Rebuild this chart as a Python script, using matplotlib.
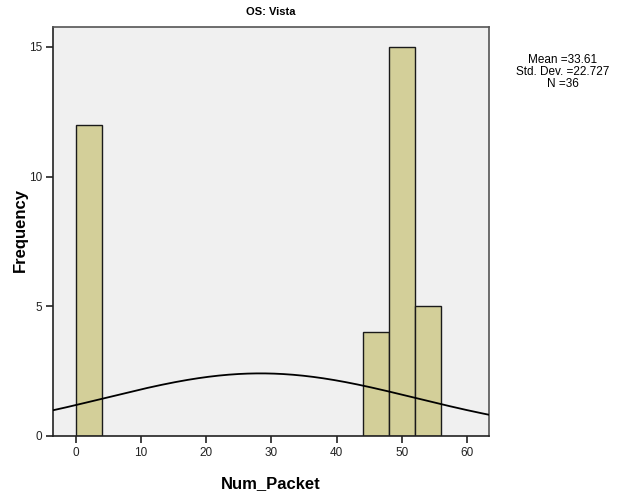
import numpy as np
import matplotlib.pyplot as plt

# ---- data ----
bin_left = [0, 44, 48, 52]
bin_width = 4
counts = [12, 4, 15, 5]
x_ticks = [0, 10, 20, 30, 40, 50, 60]
y_ticks = [0, 5, 10, 15]

# fitted normal curve as drawn
curve_mean = 28.3
curve_sd = 23.8
n_total = 36

stats_text = "Mean =33.61\nStd. Dev. =22.727\nN =36"

plt.rcParams['font.family'] = ['Liberation Sans', 'DejaVu Sans']

fig = plt.figure(figsize=(6.2, 4.93), dpi=100)
ax = fig.add_axes([53/620, 1 - 436/493, 436/620, (436 - 26.7)/493])
ax.set_facecolor("#f0f0f0")

ax.bar(bin_left, counts, width=bin_width, align="edge",
       color="#d3cf99", edgecolor="#1a1a1a", linewidth=1.0, zorder=2)

xs = np.linspace(-4, 64, 400)
ys = n_total * bin_width / (curve_sd * np.sqrt(2 * np.pi)) * np.exp(-(xs - curve_mean)**2 / (2 * curve_sd**2))
ax.plot(xs, ys, color="black", linewidth=1.3, zorder=3)

ax.set_xlim(-3.45, 63.3)
ax.set_ylim(0, 15.78)
ax.set_xticks(x_ticks)
ax.set_yticks(y_ticks)
ax.tick_params(direction="out", length=5, width=1.2, labelsize=8.5, colors="#222222", pad=3)
for s in ax.spines.values():
    s.set_color("#555555")
    s.set_linewidth(1.2)
ax.spines["bottom"].set_color("#222222")
ax.spines["left"].set_color("#222222")

ax.set_xlabel("Num_Packet", fontsize=12, fontweight="bold")
ax.xaxis.set_label_coords(218/436, -(476 - 436) / (436 - 26.7))
ax.set_ylabel("Frequency", fontsize=12, fontweight="bold")
ax.yaxis.set_label_coords(-(53 - 28) / 436, (436 - 230) / (436 - 26.7))

fig.text(271/620, 1 - 12/493, "OS: Vista", ha="center", va="center",
         fontsize=8, fontweight="bold")
fig.text(563/620, 1 - 72/493, stats_text, ha="center", va="center",
         fontsize=8.5, linespacing=1.05)

fig.savefig("out.png", dpi=100)
